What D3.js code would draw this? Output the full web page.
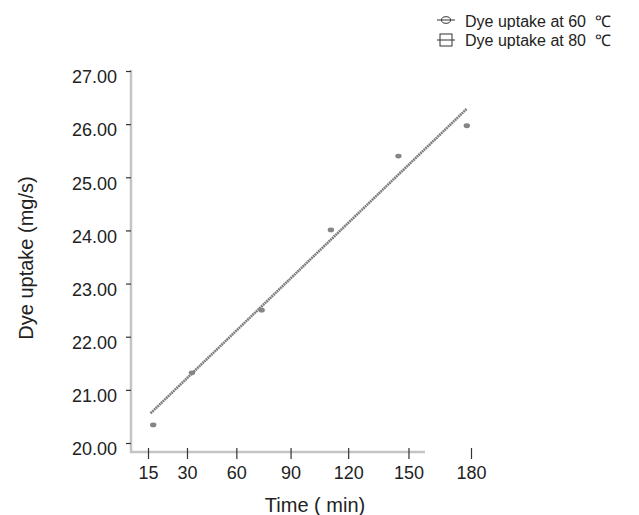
<!DOCTYPE html>
<meta charset="utf-8">
<style>

    body {
        margin: 0;
        background: #fff;
    }

    text {
        font-family: "Liberation Sans", Arial, Helvetica, sans-serif;
        fill: #222;
    }

    .axis-line {
        stroke: #c4c4c4;
        stroke-width: 2.5px;
    }

    .axis .tick line {
        stroke: #333;
        stroke-width: 1.2px;
    }

    .fit {
        fill: none;
        stroke: #7c7c7c;
        stroke-width: 2.6px;
        stroke-dasharray: 1.8 0.6;
    }

    .dot {
        fill: #858585;
    }

</style>
<body>
<script src="https://cdn.jsdelivr.net/npm/d3@7"></script>
<script>

    // x axis categories (min) and the y axis range
    var timeTicks = [15, 30, 60, 90, 120, 150, 180];
    var uptakeTicks = [20, 21, 22, 23, 24, 25, 26, 27];

    var pointTimes = [17, 33, 74, 111, 145, 178];
    var pointUptake = [20.34, 21.32, 22.50, 24.01, 25.40, 25.97];

    // fitted straight line, two ends
    var fitTimes = [16, 178];
    var fitUptake = [20.56, 26.29];

    var legendLabels = ["Dye uptake at 60\u00a0\u00a0\u2103", "Dye uptake at 80\u00a0\u00a0\u2103"];

    var width = 639,
            height = 515;

    var svg = d3.select("body").append("svg")
            .attr("width", width)
            .attr("height", height);

    // the time ticks are not evenly spaced on the original, they widen to the right
    var idx = d3.scalePow().exponent(1.18).domain([0, timeTicks.length - 1]).range([148, 471]);
    var x = d3.scaleLinear()
            .domain(timeTicks)
            .range(timeTicks.map(function(d, i) { return idx(i); }));

    var y = d3.scaleLinear()
            .domain([20, 27])
            .range([443, 71]);

    var x0 = 131, y0 = 452;

    // grey axis lines
    svg.append("line")
            .attr("class", "axis-line")
            .attr("x1", x0).attr("x2", x0)
            .attr("y1", y(27) - 1).attr("y2", y0 + 1);

    svg.append("line")
            .attr("class", "axis-line")
            .attr("x1", x0 - 1).attr("x2", 425)
            .attr("y1", y0).attr("y2", y0);

    var yAxis = svg.append("g")
            .attr("class", "axis")
            .attr("transform", "translate(" + x0 + ",0)")
            .call(d3.axisLeft(y).tickValues(uptakeTicks).tickSize(5).tickPadding(9).tickFormat(d3.format(".2f")));
    yAxis.select(".domain").remove();
    yAxis.selectAll("text")
            .attr("y", 6)
            .style("font-size", "18px");

    var xAxis = svg.append("g")
            .attr("class", "axis")
            .attr("transform", "translate(0," + y0 + ")")
            .call(d3.axisBottom(x).tickValues(timeTicks).tickSize(7).tickPadding(7));
    xAxis.select(".domain").remove();
    xAxis.selectAll(".tick line").attr("y1", -4);
    xAxis.selectAll("text")
            .style("font-size", "18px");

    // axis titles
    svg.append("text")
            .attr("x", 315)
            .attr("y", 512)
            .attr("text-anchor", "middle")
            .style("font-size", "20px")
            .text("Time ( min)");

    svg.append("text")
            .attr("transform", "translate(33,258)rotate(-90)")
            .attr("text-anchor", "middle")
            .style("font-size", "20px")
            .text("Dye uptake (mg/s)");

    // fit line
    svg.append("path")
            .attr("class", "fit")
            .attr("d", d3.line()
                    .x(function(d) { return x(d); })
                    .y(function(d, i) { return y(fitUptake[i]); })(fitTimes));

    svg.selectAll(".dot")
            .data(pointTimes)
            .enter().append("ellipse")
            .attr("class", "dot")
            .attr("cx", function(d) { return x(d); })
            .attr("cy", function(d, i) { return y(pointUptake[i]); })
            .attr("rx", 3.2)
            .attr("ry", 2.4);

    // legend
    var legend = svg.append("g")
            .attr("transform", "translate(446,0)");

    var row = legend.selectAll(".row")
            .data(legendLabels)
            .enter().append("g")
            .attr("class", "row")
            .attr("transform", function(d, i) { return "translate(0," + (21 + i * 19) + ")"; });

    row.append("text")
            .attr("x", 19)
            .attr("dy", "0.36em")
            .style("font-size", "16px")
            .text(function(d) { return d; });

    row.append("line")
            .attr("x1", -9).attr("x2", 9)
            .attr("y1", function(d, i) { return i ? 0 : -1; })
            .attr("y2", function(d, i) { return i ? 0 : -1; })
            .attr("stroke", "#333")
            .attr("stroke-width", 1);

    legend.select(".row").append("ellipse")
            .attr("cx", 0).attr("cy", -1)
            .attr("rx", 4.5).attr("ry", 3.3)
            .attr("fill", "none")
            .attr("stroke", "#333");

    d3.select(legend.selectAll(".row").nodes()[1]).append("rect")
            .attr("x", -6).attr("y", -6)
            .attr("width", 12).attr("height", 12)
            .attr("fill", "none")
            .attr("stroke", "#333");

</script>
</body>
</html>
